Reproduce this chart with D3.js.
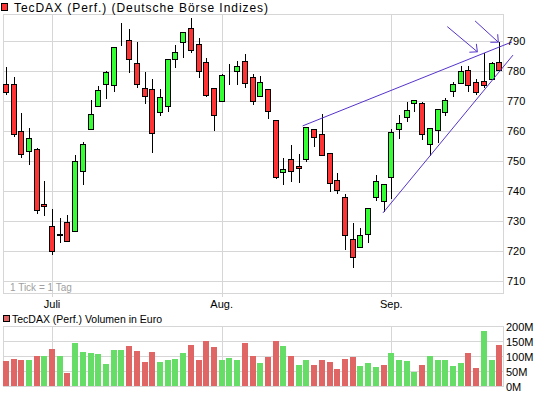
<!DOCTYPE html>
<html>
<head>
<meta charset="utf-8">
<script src="https://cdn.jsdelivr.net/npm/d3@7"></script>
<style>
  html, body { margin: 0; padding: 0; background: #fff; }
  svg { display: block; }
  text { font-family: "Liberation Sans", Arial, sans-serif; font-size: 11px; fill: #000; }
</style>
</head>
<body>
<script>
// ---------- DATA ----------
const dates = [
  "2010-06-23","2010-06-24","2010-06-25","2010-06-28","2010-06-29","2010-06-30",
  "2010-07-01","2010-07-02","2010-07-05","2010-07-06","2010-07-07","2010-07-08","2010-07-09",
  "2010-07-12","2010-07-13","2010-07-14","2010-07-15","2010-07-16","2010-07-19","2010-07-20",
  "2010-07-21","2010-07-22","2010-07-23","2010-07-26","2010-07-27","2010-07-28","2010-07-29","2010-07-30",
  "2010-08-02","2010-08-03","2010-08-04","2010-08-05","2010-08-06","2010-08-09","2010-08-10",
  "2010-08-11","2010-08-12","2010-08-13","2010-08-16","2010-08-17","2010-08-18","2010-08-19",
  "2010-08-20","2010-08-23","2010-08-24","2010-08-25","2010-08-26","2010-08-27","2010-08-30","2010-08-31",
  "2010-09-01","2010-09-02","2010-09-03","2010-09-06","2010-09-07","2010-09-08","2010-09-09",
  "2010-09-10","2010-09-13","2010-09-14","2010-09-15","2010-09-16","2010-09-17","2010-09-20","2010-09-21"
];
const open = [
  775.6,775.6,760.1,753.4,754.1,735.7,728.3,725.6,729.6,726.6,
  746.7,760.6,768.5,775.6,775.2,792.7,790.3,782.6,774.2,773.9,
  766.5,768.2,784.0,789.7,794.4,789.0,783.0,774.2,769.9,780.3,
  779.9,783.3,777.9,771.5,773.9,763.8,746.4,750.7,748.4,750.7,
  760.8,759.1,752.8,743.7,738.0,723.9,721.5,725.6,738.0,736.6,
  744.7,760.8,764.8,769.2,769.3,755.8,760.5,766.2,773.2,775.9,
  780.2,776.2,776.6,777.2,783.0
];
const high = [
  781.4,777.9,766.0,760.9,754.3,743.5,734.0,731.1,731.9,751.9,
  756.2,770.3,775.0,780.0,788.0,796.0,794.0,789.8,779.6,777.2,
  773.9,784.0,788.8,793.0,797.5,791.1,784.4,774.2,779.0,782.3,
  783.4,785.7,779.0,778.4,773.9,763.8,750.9,755.5,752.4,761.5,
  760.8,765.8,752.8,746.0,738.9,729.4,727.7,734.3,745.3,742.3,
  760.8,765.3,769.8,770.3,769.6,761.1,767.2,770.9,776.5,781.7,
  781.7,777.2,786.0,783.1,789.6
];
const low = [
  772.5,758.3,751.3,749.0,732.6,732.1,719.1,723.1,723.2,726.6,
  742.2,760.6,768.5,771.1,773.4,788.7,779.8,774.8,769.4,753.0,
  765.4,766.7,781.2,784.5,786.5,778.1,771.7,760.4,769.9,775.6,
  775.8,774.8,769.1,771.5,764.4,744.3,742.2,743.5,742.9,750.1,
  755.0,752.1,739.9,739.2,720.8,714.7,721.5,723.1,737.0,733.4,
  737.7,757.8,763.2,766.8,757.4,751.9,756.3,765.4,771.7,775.9,
  773.4,772.3,774.8,777.2,780.2
];
const close = [
  772.9,759.1,752.4,757.8,733.6,735.0,719.9,725.4,723.2,750.1,
  755.8,765.8,773.6,779.6,788.0,792.6,784.0,775.6,771.5,759.5,
  771.2,784.0,786.3,793.0,787.0,779.9,772.1,765.5,778.6,780.4,
  781.6,775.9,769.9,776.2,766.6,744.7,747.4,746.7,747.7,761.5,
  758.1,752.1,742.7,740.3,725.2,717.9,725.2,734.3,743.4,742.3,
  759.8,762.5,767.0,770.3,759.1,761.1,767.2,770.3,775.6,779.9,
  775.2,773.0,775.2,782.8,780.2
];
// volume in million euro
const volume = [
  84,90,87,87,101,101,123,101,44,143,
  113,111,108,74,120,120,134,117,80,113,
  80,87,90,111,138,87,150,130,87,93,
  87,143,100,78,97,150,133,100,70,87,
  70,87,80,57,90,97,67,77,63,70,
  110,87,83,47,70,100,87,87,67,77,
  110,60,183,87,138
];
const priceTicks = [710,720,730,740,750,760,770,780,790];
const volTicks = [0,50,100,150,200];
const volTickLabels = ["0M","50M","100M","150M","200M"];
const monthTicks = ["2010-07-01","2010-08-02","2010-09-01"];
const monthLabels = ["Juli","Aug.","Sep."];
// trend lines: [fractional day index, value] start/end
const trendLines = [
  [[38.5, 761.7],[65.66, 789.7]],
  [[48.92, 732.7],[65.78, 785.3]]
];
// arrows: [fractional day index, value] start -> tip
const arrows = [
  [[57.26, 794.8],[61.16, 786.4]],
  [[60.86, 796.7],[63.88, 789.6]]
];
const titleMain = "TecDAX (Perf.) (Deutsche Börse Indizes)";
const titleVol = "TecDAX (Perf.) Volumen in Euro";
const tickNote = "1 Tick = 1 Tag";

// ---------- CHART ----------
const W = 545, H = 395;
const L = 3, R = 503, T = 14, B = 293;
const VT = 326, VB = 386;
const gridCol = "#d6d6d6";
const upCol = "#33ff33", downCol = "#ff3333";
const vUp = "#66dd66", vDown = "#e06666";
const trendCol = "#5533cc";

const svg = d3.select("body").append("svg").attr("width", W).attr("height", H);
svg.append("rect").attr("width", W).attr("height", H).attr("fill", "#fff");

const x = d3.scaleBand().domain(dates).range([1.95, 503.1]).padding(0);
const cx = d => x(d) + x.bandwidth() / 2;
const xi = d3.scaleLinear().domain([0, dates.length - 1])
  .range([cx(dates[0]), cx(dates[dates.length - 1])]);
const y = d3.scaleLinear().domain([706, 799]).range([B, T]);
const yv = d3.scaleLinear().domain([0, 200]).range([VB, VT]);

const crisp = v => Math.round(v) + 0.5;

// ----- main panel grid -----
const g = svg.append("g").attr("shape-rendering", "crispEdges");
g.selectAll("line.hg").data(priceTicks).join("line")
  .attr("x1", L).attr("x2", R)
  .attr("y1", d => crisp(y(d))).attr("y2", d => crisp(y(d)))
  .attr("stroke", gridCol);
g.selectAll("line.vg").data(monthTicks).join("line")
  .attr("x1", d => crisp(cx(d))).attr("x2", d => crisp(cx(d)))
  .attr("y1", T).attr("y2", B + 4)
  .attr("stroke", gridCol);
g.append("rect").attr("x", L + 0.5).attr("y", T + 0.5)
  .attr("width", R - L).attr("height", B - T)
  .attr("fill", "none").attr("stroke", gridCol);

// ----- volume panel grid -----
g.selectAll("line.vhg").data(volTicks.slice(1, -1)).join("line")
  .attr("x1", L).attr("x2", R)
  .attr("y1", d => crisp(yv(d))).attr("y2", d => crisp(yv(d)))
  .attr("stroke", gridCol);
g.selectAll("line.vvg").data(monthTicks).join("line")
  .attr("x1", d => crisp(cx(d))).attr("x2", d => crisp(cx(d)))
  .attr("y1", VT).attr("y2", VB)
  .attr("stroke", gridCol);
g.append("rect").attr("x", L + 0.5).attr("y", VT + 0.5)
  .attr("width", R - L).attr("height", VB - VT)
  .attr("fill", "none").attr("stroke", gridCol);

// ----- volume bars -----
const vdata = dates.map((d, i) => ({
  d, v: volume[i],
  up: i === 0 ? close[i] >= open[i] : close[i] >= close[i - 1]
}));
g.selectAll("rect.vb").data(vdata).join("rect")
  .attr("x", d => Math.round(cx(d.d)) - 3)
  .attr("width", 6)
  .attr("y", d => Math.round(yv(d.v)))
  .attr("height", d => VB - Math.round(yv(d.v)))
  .attr("fill", d => d.up ? vUp : vDown);

// ----- candles -----
const cdata = dates.map((d, i) => ({ d, o: open[i], h: high[i], l: low[i], c: close[i] }));
const cg = svg.append("g").attr("shape-rendering", "crispEdges");
cg.selectAll("line.wick").data(cdata).join("line")
  .attr("x1", d => Math.round(cx(d.d)) + 0.5).attr("x2", d => Math.round(cx(d.d)) + 0.5)
  .attr("y1", d => Math.round(y(d.h))).attr("y2", d => Math.round(y(d.l)) + 1)
  .attr("stroke", "#000");
cg.selectAll("rect.body").data(cdata).join("rect")
  .attr("x", d => Math.round(cx(d.d)) - 2.5)
  .attr("width", 5)
  .attr("y", d => crisp(y(Math.max(d.o, d.c))))
  .attr("height", d => Math.max(0, Math.round(y(Math.min(d.o, d.c))) - Math.round(y(Math.max(d.o, d.c)))))
  .attr("fill", d => d.c >= d.o ? upCol : downCol)
  .attr("stroke", "#000");

// ----- trend lines -----
svg.selectAll("line.trend").data(trendLines).join("line")
  .attr("x1", d => xi(d[0][0])).attr("y1", d => y(d[0][1]))
  .attr("x2", d => xi(d[1][0])).attr("y2", d => y(d[1][1]))
  .attr("stroke", trendCol).attr("stroke-width", 1);

// ----- arrows -----
arrows.forEach(a => {
  const x1 = xi(a[0][0]), y1 = y(a[0][1]), x2 = xi(a[1][0]), y2 = y(a[1][1]);
  svg.append("line").attr("x1", x1).attr("y1", y1).attr("x2", x2).attr("y2", y2)
    .attr("stroke", trendCol);
  const ang = Math.atan2(y1 - y2, x1 - x2);
  [-0.75, 0.75].forEach(da => {
    svg.append("line").attr("x1", x2).attr("y1", y2)
      .attr("x2", x2 + 8 * Math.cos(ang + da)).attr("y2", y2 + 8 * Math.sin(ang + da))
      .attr("stroke", trendCol);
  });
});

// ----- axis labels -----
svg.selectAll("text.py").data(priceTicks).join("text")
  .attr("x", 507).attr("y", d => y(d) + 4).text(d => d);
svg.selectAll("text.vy").data(volTicks).join("text")
  .attr("x", 506).attr("y", d => yv(d) + 5).text((d, i) => volTickLabels[i]);
svg.selectAll("text.mx").data(monthTicks).join("text")
  .attr("x", d => cx(d)).attr("y", 308).attr("text-anchor", "middle")
  .text((d, i) => monthLabels[i]);

svg.append("text").attr("x", 10).attr("y", 290.5)
  .style("fill", "#a0a0a0").style("font-size", "10px").text(tickNote);

// ----- legends -----
svg.append("rect").attr("x", 1.5).attr("y", 3.5).attr("width", 6).attr("height", 7)
  .attr("fill", downCol).attr("stroke", "#000").attr("shape-rendering", "crispEdges");
svg.append("text").attr("x", 14).attr("y", 12)
  .style("font-size", "12px")
  .attr("textLength", 254).attr("lengthAdjust", "spacing")
  .text(titleMain);
svg.append("rect").attr("x", 3.5).attr("y", 315.5).attr("width", 6).attr("height", 6)
  .attr("fill", vDown).attr("stroke", "#000").attr("shape-rendering", "crispEdges");
svg.append("text").attr("x", 12).attr("y", 323)
  .style("font-size", "10.5px").text(titleVol);
</script>
</body>
</html>
